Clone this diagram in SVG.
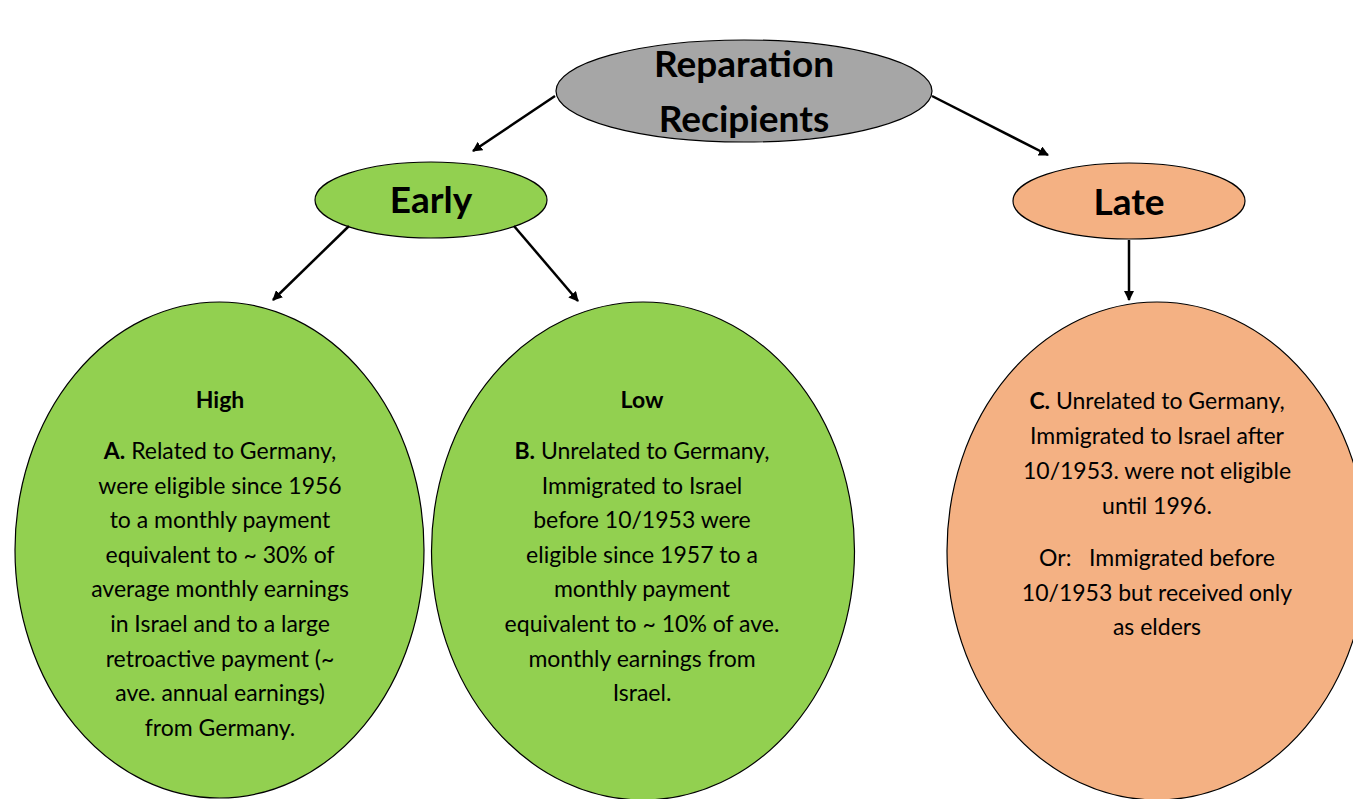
<svg xmlns="http://www.w3.org/2000/svg" width="1353" height="799" viewBox="0 0 1353 799">
<defs>
<marker id="ah" viewBox="0 0 10 10" refX="9" refY="5" markerWidth="4" markerHeight="4" orient="auto" markerUnits="strokeWidth">
<path d="M0,0 L10,5 L0,10 z" fill="#000"/>
</marker>
<style>
.n{stroke:#000;stroke-width:1.2}
.g{fill:#a6a6a6}
.gr{fill:#92d050}
.or{fill:#f4b183}
.t{font-family:Lato,"Open Sans","Liberation Sans",sans-serif;fill:#000;text-anchor:middle}
.big{font-size:37px;font-weight:bold}
.b{font-size:23px}
.hd{font-size:23px;font-weight:bold}
.c line{stroke:#000;stroke-width:2.5;marker-end:url(#ah)}
</style>
</defs>
<rect width="1353" height="799" fill="#fff"/>
<g id="root">
<ellipse class="n g" cx="744" cy="91" rx="188" ry="51"/>
<text class="t big" x="744" y="77">Reparation</text>
<text class="t big" x="744" y="132">Recipients</text>
</g>
<g id="early">
<ellipse class="n gr" cx="431" cy="200" rx="116" ry="38"/>
<text class="t big" x="431" y="213">Early</text>
</g>
<g id="late">
<ellipse class="n or" cx="1129" cy="201" rx="116" ry="38"/>
<text class="t big" x="1129" y="215">Late</text>
</g>
<g id="high">
<ellipse class="n gr" cx="219.5" cy="550" rx="204.5" ry="248"/>
<text class="t hd" x="220" y="408">High</text>
<text class="t b" x="220" y="459"><tspan font-weight="bold">A.</tspan> Related to Germany,</text>
<text class="t b" x="220" y="493.6">were eligible since 1956</text>
<text class="t b" x="220" y="528.2">to a monthly payment</text>
<text class="t b" x="220" y="562.8">equivalent to ~ 30% of</text>
<text class="t b" x="220" y="597.4">average monthly earnings</text>
<text class="t b" x="220" y="632">in Israel and to a large</text>
<text class="t b" x="220" y="666.6">retroactive payment (~</text>
<text class="t b" x="220" y="701.2">ave. annual earnings)</text>
<text class="t b" x="220" y="735.8">from Germany.</text>
</g>
<g id="low">
<ellipse class="n gr" cx="643" cy="551" rx="211.5" ry="249"/>
<text class="t hd" x="642" y="408">Low</text>
<text class="t b" x="642" y="459"><tspan font-weight="bold">B.</tspan> Unrelated to Germany,</text>
<text class="t b" x="642" y="493.6">Immigrated to Israel</text>
<text class="t b" x="642" y="528.2">before 10/1953 were</text>
<text class="t b" x="642" y="562.8">eligible since 1957 to a</text>
<text class="t b" x="642" y="597.4">monthly payment</text>
<text class="t b" x="642" y="632">equivalent to ~ 10% of ave.</text>
<text class="t b" x="642" y="666.6">monthly earnings from</text>
<text class="t b" x="642" y="701.2">Israel.</text>
</g>
<g id="lateDetail">
<ellipse class="n or" cx="1157" cy="551" rx="210" ry="249"/>
<text class="t b" x="1157" y="409"><tspan font-weight="bold">C.</tspan> Unrelated to Germany,</text>
<text class="t b" x="1157" y="444">Immigrated to Israel after</text>
<text class="t b" x="1157" y="479">10/1953. were not eligible</text>
<text class="t b" x="1157" y="514">until 1996.</text>
<text class="t b" x="1157" y="566" xml:space="preserve">Or:   Immigrated before</text>
<text class="t b" x="1157" y="600.5">10/1953 but received only</text>
<text class="t b" x="1157" y="635">as elders</text>
</g>
<g id="connectors" class="c">
<line x1="555" y1="96" x2="473" y2="151"/>
<line x1="932" y1="96" x2="1048" y2="155"/>
<line x1="349" y1="226" x2="273" y2="300"/>
<line x1="514" y1="226" x2="578" y2="301"/>
<line x1="1129" y1="240" x2="1129" y2="300"/>
</g>
</svg>
